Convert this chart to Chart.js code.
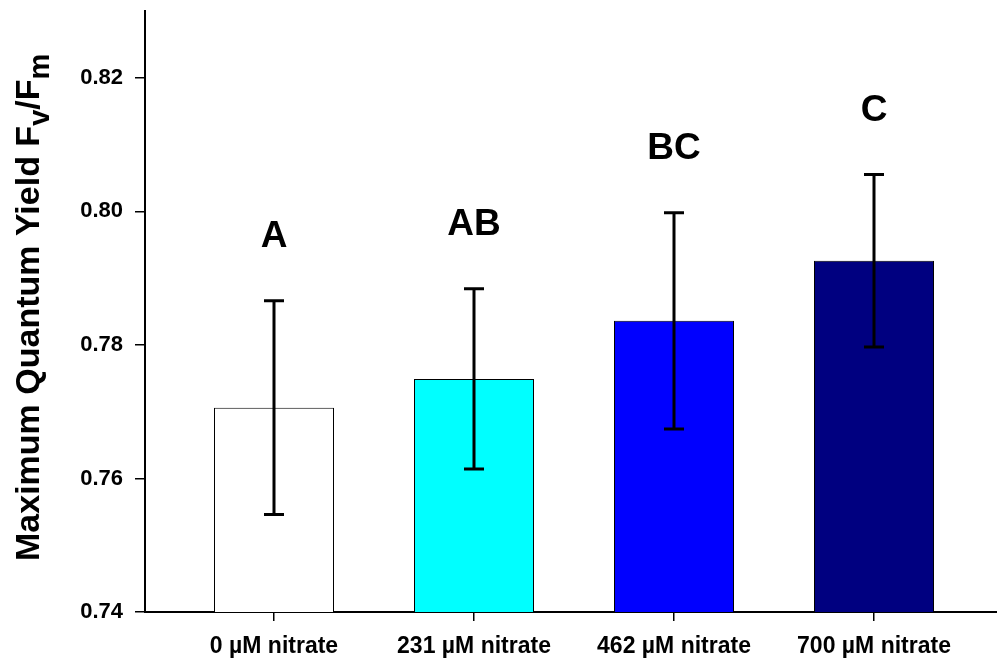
<!DOCTYPE html>
<html><head><meta charset="utf-8">
<script src="https://cdn.jsdelivr.net/npm/chart.js@4"></script>
<style>html,body{margin:0;padding:0;background:#fff;} canvas{display:block;}</style>
</head><body>
<canvas id="c" width="997" height="662"></canvas>
<script>
const categories = ['0 µM nitrate', '231 µM nitrate', '462 µM nitrate', '700 µM nitrate'];
const positions = [1, 2, 3, 4];
const means = [0.7706, 0.7749, 0.7836, 0.7926];
const errors = [0.0160, 0.0135, 0.0162, 0.0129];
const letters = ['A', 'AB', 'BC', 'C'];
const barColors = ['#FFFFFF', '#00FFFF', '#0000FF', '#000080'];
const yTicks = [0.74, 0.76, 0.78, 0.80, 0.82];
const yTitleParts = [['Maximum Quantum Yield F', false], ['v', true], ['/F', false], ['m', true]];

const FONT = '"Liberation Sans", Arial, Helvetica, sans-serif';

const errorBarPlugin = {
  id: 'errorBars',
  afterDatasetsDraw(chart) {
    const ctx = chart.ctx, xs = chart.scales.x, ys = chart.scales.y;
    ctx.save();
    ctx.strokeStyle = '#000';
    ctx.lineWidth = 3;
    ctx.lineCap = 'butt';
    for (let i = 0; i < means.length; i++) {
      const x = xs.getPixelForValue(positions[i]);
      const yt = ys.getPixelForValue(means[i] + errors[i]);
      const yb = ys.getPixelForValue(means[i] - errors[i]);
      ctx.beginPath();
      ctx.moveTo(x, yt); ctx.lineTo(x, yb);
      ctx.moveTo(x - 10, yt); ctx.lineTo(x + 10, yt);
      ctx.moveTo(x - 10, yb); ctx.lineTo(x + 10, yb);
      ctx.stroke();
    }
    ctx.restore();
  }
};

const lettersPlugin = {
  id: 'letters',
  afterDatasetsDraw(chart) {
    const ctx = chart.ctx, xs = chart.scales.x, ys = chart.scales.y;
    ctx.save();
    ctx.fillStyle = '#000';
    ctx.font = 'bold 37px ' + FONT;
    ctx.textAlign = 'center';
    ctx.textBaseline = 'alphabetic';
    for (let i = 0; i < letters.length; i++) {
      const x = xs.getPixelForValue(positions[i]);
      const yt = ys.getPixelForValue(means[i] + errors[i]);
      ctx.fillText(letters[i], x, yt - 54);
    }
    ctx.restore();
  }
};

const yTitlePlugin = {
  id: 'yTitle',
  afterDraw(chart) {
    const ctx = chart.ctx;
    ctx.save();
    ctx.translate(39, 561);
    ctx.rotate(-Math.PI / 2);
    ctx.fillStyle = '#000';
    ctx.textAlign = 'left';
    ctx.textBaseline = 'alphabetic';
    let x = 0;
    for (const [t, sub] of yTitleParts) {
      ctx.font = (sub ? 'bold 29px ' : 'bold 34px ') + FONT;
      ctx.fillText(t, x, sub ? 10 : 0);
      x += ctx.measureText(t).width;
    }
    ctx.restore();
  }
};

function zeroPad(scale) {
  scale.paddingTop = 0; scale.paddingBottom = 0;
  scale.paddingLeft = 0; scale.paddingRight = 0;
}

new Chart(document.getElementById('c'), {
  type: 'bar',
  data: {
    datasets: [{
      data: positions.map((p, i) => ({ x: p, y: means[i] })),
      backgroundColor: barColors,
      borderColor: '#000',
      borderWidth: 1,
      borderSkipped: 'start',
      barPercentage: 0.6,
      categoryPercentage: 1.0
    }]
  },
  options: {
    responsive: false,
    animation: false,
    devicePixelRatio: 1,
    layout: { padding: { top: 11, right: 0, left: 0, bottom: 0 } },
    plugins: { legend: { display: false }, tooltip: { enabled: false }, title: { display: false } },
    scales: {
      x: {
        type: 'linear',
        offset: false,
        min: 0.355,
        max: 4.615,
        afterBuildTicks(scale) { scale.ticks = positions.map(v => ({ value: v })); },
        afterFit(scale) { scale.height = 50; zeroPad(scale); },
        ticks: {
          autoSkip: false,
          maxRotation: 0,
          padding: 12,
          color: '#000',
          font: { family: FONT, size: 23, weight: 'bold' },
          callback: (v) => categories[positions.indexOf(v)] || ''
        },
        grid: { offset: false, drawOnChartArea: false, drawTicks: true, tickLength: 9, color: '#000', lineWidth: 1.5 },
        border: { display: true, color: '#000', width: 2 }
      },
      y: {
        type: 'linear',
        min: 0.74,
        max: 0.83,
        afterBuildTicks(scale) { scale.ticks = yTicks.map(v => ({ value: v })); },
        afterFit(scale) { scale.width = 145; zeroPad(scale); },
        ticks: {
          padding: 12,
          color: '#000',
          font: { family: FONT, size: 22, weight: 'bold' },
          callback: (v) => Number(v).toFixed(2)
        },
        grid: { drawOnChartArea: false, drawTicks: true, tickLength: 10, color: '#000', lineWidth: 1.5 },
        border: { display: true, color: '#000', width: 2 }
      }
    }
  },
  plugins: [errorBarPlugin, lettersPlugin, yTitlePlugin]
});
</script>
</body></html>
